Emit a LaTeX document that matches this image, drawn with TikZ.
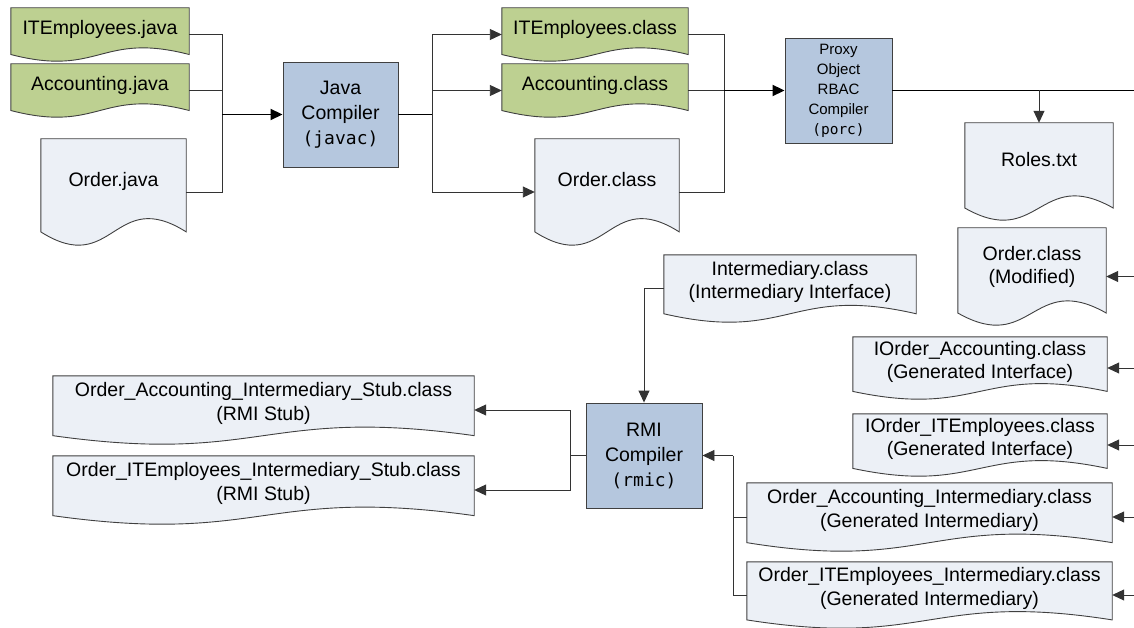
\documentclass[tikz,border=0pt]{standalone}
\usepackage{fontspec}
\setmainfont{Liberation Sans}
\newfontfamily\codefont{DejaVu Sans Mono}
\usetikzlibrary{arrows.meta,backgrounds,calc}

\definecolor{srcgreen}{RGB}{189,208,145}
\definecolor{docfill}{RGB}{236,240,246}
\definecolor{toolblue}{RGB}{181,199,222}
\definecolor{edgegray}{RGB}{64,64,64}

\tikzset{
  txt/.style={font=\fontsize{19.5}{23.5}\selectfont, align=center, inner sep=0pt},
  % file shape: text sits in the upper part, the wave takes the rest
  doc/.code 2 args={\pgfmathsetlengthmacro\docdepth{4pt+0.2*#2pt}%
    \tikzset{txt, minimum width=#1, minimum height=#2, text depth=\docdepth}},
  tool/.style={txt, font=\fontsize{19.5}{25}\selectfont, draw=edgegray, line width=0.9pt,
    fill=toolblue, minimum width=#1, minimum height=105},
  outline/.style={draw=edgegray, line width=0.9pt},
  wire/.style={draw=black!80, line width=0.9pt},
  trunk/.style={draw=black, line width=1.8pt}
}

\begin{document}
\begin{tikzpicture}[x=1pt,y=-1pt,>={Triangle[length=12pt,width=11pt]}]
\useasboundingbox (0,0) rectangle (1134,628);

% sources
\node[doc={178}{53}] (jITE) at (100,34.5) {ITEmployees.java};
\node[doc={178}{53}] (jAcc) at (100,90.5) {Accounting.java};
\node[doc={145}{106}] (jOrd) at (113.5,192) {Order.java};
\node[tool=115] (javac) at (340.5,114.5) {Java\\Compiler\\{\codefont\fontsize{18}{25}\selectfont(javac)}};

% class files
\node[doc={186}{53}] (cITE) at (595,34.5) {ITEmployees.class};
\node[doc={186}{53}] (cAcc) at (595,90.5) {Accounting.class};
\node[doc={144}{106}] (cOrd) at (607,192) {Order.class};
\node[tool=107, font=\fontsize{15}{20}\selectfont] (porc) at (838.5,90.5)
  {Proxy\\Object\\RBAC\\Compiler\\{\codefont\fontsize{14.5}{20}\selectfont(porc)}};

% porc output
\node[doc={148}{97}] (roles) at (1039,171.5) {Roles.txt};
\node[doc={148}{97}] (mOrd) at (1032,276.5) {Order.class\\(Modified)};
\node[doc={254}{62}] (iOrdAcc) at (980,368) {IOrder\_Accounting.class\\(Generated Interface)};
\node[doc={254}{62}] (iOrdITE) at (980,445) {IOrder\_ITEmployees.class\\(Generated Interface)};
\node[doc={365}{68}] (gAcc) at (929.5,517) {Order\_Accounting\_Intermediary.class\\(Generated Intermediary)};
\node[doc={365}{66}] (gITE) at (929.5,595) {Order\_ITEmployees\_Intermediary.class\\(Generated Intermediary)};
\node[doc={252}{67}] (inter) at (790,288.5) {Intermediary.class\\(Intermediary Interface)};

% rmi
\node[tool=116] (rmic) at (644,455.5) {RMI\\Compiler\\{\codefont\fontsize{18}{25}\selectfont(rmic)}};
\node[doc={421}{68}] (sAcc) at (263.5,410) {Order\_Accounting\_Intermediary\_Stub.class\\(RMI Stub)};
\node[doc={421}{68}] (sITE) at (263.5,490) {Order\_ITEmployees\_Intermediary\_Stub.class\\(RMI Stub)};

\begin{scope}[on background layer]
  \foreach \d/\c in {jITE/srcgreen,jAcc/srcgreen,cITE/srcgreen,cAcc/srcgreen,
      jOrd/docfill,cOrd/docfill,roles/docfill,mOrd/docfill,iOrdAcc/docfill,
      iOrdITE/docfill,gAcc/docfill,gITE/docfill,inter/docfill,sAcc/docfill,sITE/docfill}
    \draw[outline, fill=\c] let \p1=(\d.north west), \p2=(\d.south east), \n1={(\y1-\y2)/8} in
      (\p1) -- (\x2,\y1) -- (\x2,\y2+\n1)
      .. controls ({(\x1+\x2)/2},{\y2+4.46*\n1}) and ({(\x1+\x2)/2},{\y2-2.46*\n1}) .. (\x1,\y2+\n1) -- cycle;
\end{scope}

\coordinate (jin) at (222,114.5);
\coordinate (cout) at (432,114.5);
\coordinate (pin) at (724,90.5);
\coordinate (pout) at (1134,90.5);
\coordinate (rin) at (733,455.5);
\coordinate (rout) at (570,455.5);
\coordinate (rim) at (1134,0);

\draw[wire] (jITE.east) -| (jin);
\draw[wire] (jAcc.east) -| (jin);
\draw[wire] (jOrd.east) -| (jin);
\draw[trunk,->] (jin) -- (javac);

\draw[trunk] (javac.east) -- (cout);
\draw[wire,->] (cout) |- (cITE.west);
\draw[wire,->] (cout) |- (cAcc.west);
\draw[wire,->] (cout) |- (cOrd.west);

\draw[wire] (cITE.east) -| (pin);
\draw[wire] (cAcc.east) -- (pin);
\draw[wire] (cOrd.east) -| (pin);
\draw[trunk,->] (pin) -- (porc);

\draw[trunk] (porc.east) -- (pout);
\draw[wire,->] (roles.north |- pout) -- (roles.north);

\foreach \d in {mOrd,iOrdAcc,iOrdITE,gAcc,gITE}
  \draw[wire,->] (rim |- \d.east) -- (\d.east);

\draw[wire,->] (inter.west) -| (rmic.north);
\draw[wire] (gAcc.west) -| (rin);
\draw[wire] (gITE.west) -| (rin);
\draw[wire,->] (rin) -- (rmic.east);

\draw[wire] (rmic.west) -- (rout);
\draw[wire,->] (rout) |- (sAcc.east);
\draw[wire,->] (rout) |- (sITE.east);
\end{tikzpicture}
\end{document}
